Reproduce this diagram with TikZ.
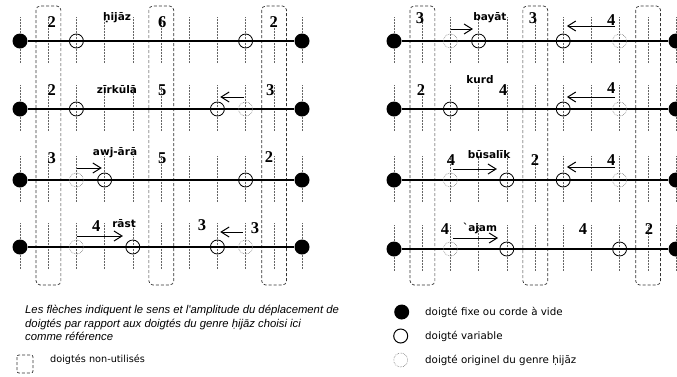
\documentclass[tikz,border=0pt]{standalone}
\usepackage{fontspec}
\setmainfont{Liberation Serif}
\newfontfamily\genrefont{DejaVu Sans}
\newfontfamily\notefont{Liberation Sans}
\usepackage{tikz}
\usetikzlibrary{arrows.meta}
\usetikzlibrary{scopes}

\tikzset{
  corde/.style={line width=1.3pt},
  fixe/.style={circle, fill=black, inner sep=0pt, minimum size=15pt},
  mobile/.style={circle, draw, line width=0.8pt, inner sep=0pt, minimum size=14pt},
  originel/.style={circle, draw=black!55, densely dotted, line width=0.6pt, inner sep=0pt, minimum size=14pt},
  touche/.style={black!60, densely dotted, line width=0.5pt},
  casevide/.style={dash pattern=on 3pt off 2pt, rounded corners=4pt, line width=0.7pt, draw=black!80},
  chiffre/.style={font=\bfseries\fontsize{16.5}{16.5}\selectfont, inner sep=0pt},
  genre/.style={font=\genrefont\bfseries\fontsize{10.5}{10.5}\selectfont, inner sep=0pt},
  fleche/.style={-{Straight Barb[length=8pt, width=10pt]}, line width=1pt},
  legende/.style={font=\genrefont\fontsize{10.3}{12}\selectfont, inner sep=0pt, anchor=west},
}

\begin{document}
\begin{tikzpicture}[x=1pt, y=-1pt]
\useasboundingbox (0,0) rectangle (677,376);

% genres a gauche
\begin{scope}[shift={(20pt,0pt)}, x=28.2pt]
\foreach \ry in {41,109,180,247}
  \foreach \i in {0,...,10}
    \draw[touche] (\i,\ry-24) -- (\i,\ry+22);
\foreach \c in {1,5,9}
  \draw[casevide] (\c-0.43,6) rectangle (\c+0.45,285);

% hijaz
\node[fixe] (hA) at (0,41) {};
\node[fixe] (hB) at (10,41) {};
\draw[corde] (hA) -- (hB);
\node[mobile] (h2) at (2,41) {};
\node[mobile] (h8) at (8,41) {};
\node[chiffre] (hn1) at (1.13,22) {2};
\node[genre] (hg) at (3.44,18) {ḥijāz};
\node[chiffre] (hn5) at (5.04,22) {6};
\node[chiffre] (hn9) at (9,22) {2};

% zirkula
\node[fixe] (zA) at (0,109) {};
\node[fixe] (zB) at (10,109) {};
\draw[corde] (zA) -- (zB);
\node[mobile] (z2) at (2,109) {};
\node[mobile] (z7) at (7,109) {};
\node[originel] (z8) at (8,109) {};
\node[chiffre] (zn1) at (1.13,90) {2};
\node[genre] (zg) at (3.44,90) {zīrkūlā};
\node[chiffre] (zn5) at (5.04,90) {5};
\node[chiffre] (zn9) at (8.87,90) {3};
\coordinate (zf1) at (7.95,97);
\coordinate (zf2) at (7.1,97);
\draw[fleche] (zf1) -- (zf2);

% awj-ara
\node[fixe] (aA) at (0,180) {};
\node[fixe] (aB) at (10,180) {};
\draw[corde] (aA) -- (aB);
\node[originel] (a2) at (2,180) {};
\node[mobile] (a3) at (3,180) {};
\node[mobile] (a8) at (8,180) {};
\node[chiffre] (an1) at (1.13,158) {3};
\node[genre] (ag) at (3.37,153) {awj-ārā};
\node[chiffre] (an5) at (5.04,158) {5};
\node[chiffre] (an9) at (8.83,157) {2};
\coordinate (af1) at (2.02,168);
\coordinate (af2) at (2.9,168);
\draw[fleche] (af1) -- (af2);

% rast
\node[fixe] (rA) at (0,247) {};
\node[fixe] (rB) at (10,247) {};
\draw[corde] (rA) -- (rB);
\node[originel] (r2) at (2,247) {};
\node[mobile] (r4) at (4,247) {};
\node[mobile] (r7) at (7,247) {};
\node[originel] (r8) at (8,247) {};
\node[chiffre] (rn1) at (2.7,226) {4};
\node[genre] (rg) at (3.69,224) {rāst};
\node[chiffre] (rn5) at (6.45,225) {3};
\node[chiffre] (rn9) at (8.33,228) {3};
\coordinate (rf1) at (2.02,236);
\coordinate (rf2) at (3.65,236);
\draw[fleche] (rf1) -- (rf2);
\coordinate (rf3) at (7.9,232);
\coordinate (rf4) at (7.1,232);
\draw[fleche] (rf3) -- (rf4);
\end{scope}

% genres a droite
\begin{scope}[shift={(394pt,0pt)}, x=28.2pt]
\foreach \ry in {41,109,180,249}
  \foreach \i in {0,...,10}
    \draw[touche] (\i,\ry-24) -- (\i,\ry+22);
\foreach \c in {1,5,9}
  \draw[casevide] (\c-0.43,6) rectangle (\c+0.45,285);

% bayat
\node[fixe] (bA) at (0,41) {};
\node[fixe] (bB) at (10,41) {};
\draw[corde] (bA) -- (bB);
\node[originel] (b2) at (2,41) {};
\node[mobile] (b3) at (3,41) {};
\node[mobile] (b6) at (6,41) {};
\node[originel] (b8) at (8,41) {};
\node[chiffre] (bn1) at (0.92,18) {3};
\node[genre] (bg) at (3.4,18) {bayāt};
\node[chiffre] (bn5) at (4.93,18) {3};
\node[chiffre] (bn9) at (7.7,20) {4};
\coordinate (bf1) at (2.02,29);
\coordinate (bf2) at (2.8,29);
\draw[fleche] (bf1) -- (bf2);
\coordinate (bf3) at (7.84,26);
\coordinate (bf4) at (6.13,26);
\draw[fleche] (bf3) -- (bf4);

% kurd
\node[fixe] (kA) at (0,109) {};
\node[fixe] (kB) at (10,109) {};
\draw[corde] (kA) -- (kB);
\node[mobile] (k2) at (2,109) {};
\node[mobile] (k6) at (6,109) {};
\node[originel] (k8) at (8,109) {};
\node[chiffre] (kn1) at (0.96,90) {2};
\node[genre] (kg) at (3.05,80) {kurd};
\node[chiffre] (kn5) at (3.87,90) {4};
\node[chiffre] (kn9) at (7.7,88) {4};
\coordinate (kf1) at (7.84,97);
\coordinate (kf2) at (6.13,97);
\draw[fleche] (kf1) -- (kf2);

% busalik
\node[fixe] (sA) at (0,180) {};
\node[fixe] (sB) at (10,180) {};
\draw[corde] (sA) -- (sB);
\node[originel] (s2) at (2,180) {};
\node[mobile] (s4) at (4,180) {};
\node[mobile] (s6) at (6,180) {};
\node[originel] (s8) at (8,180) {};
\node[chiffre] (sn1) at (2.02,160) {4};
\node[genre] (sg) at (3.37,155) {būsalīk};
\node[chiffre] (sn5) at (5,160) {2};
\node[chiffre] (sn9) at (7.7,160) {4};
\coordinate (sf1) at (2.09,169);
\coordinate (sf2) at (3.65,169);
\draw[fleche] (sf1) -- (sf2);
\coordinate (sf3) at (7.84,167);
\coordinate (sf4) at (6.13,167);
\draw[fleche] (sf3) -- (sf4);

% ajam
\node[fixe] (jA) at (0,249) {};
\node[fixe] (jB) at (10,249) {};
\draw[corde] (jA) -- (jB);
\node[originel] (j2) at (2,249) {};
\node[mobile] (j4) at (4,249) {};
\node[mobile] (j8) at (8,249) {};
\node[chiffre] (jn1) at (1.81,229) {4};
\node[genre] (jg) at (3.05,228) {`ajam};
\node[chiffre] (jn5) at (6.7,229) {4};
\node[chiffre] (jn9) at (9.04,229) {2};
\coordinate (jf1) at (2.09,238);
\coordinate (jf2) at (3.69,238);
\draw[fleche] (jf1) -- (jf2);
\end{scope}

% legende
\node[font=\notefont\itshape\fontsize{11.3}{13.5}\selectfont, inner sep=0pt,
  align=left, anchor=north west] (note) at (25,305)
  {Les flèches indiquent le sens et l'amplitude du déplacement de\\
   doigtés par rapport aux doigtés du genre ḥijāz choisi ici\\
   comme référence};
\draw[casevide, rounded corners=2pt] (17,355) rectangle (33,373);
\node[legende, font=\genrefont\fontsize{9.7}{12}\selectfont] (lcase) at (50,360) {doigtés non-utilisés};
\node[fixe] (lfixe) at (401.7,312) {};
\node[legende] (lfixet) at (425,312) {doigté fixe ou corde à vide};
\node[mobile, line width=1pt] (lvar) at (400.7,336) {};
\node[legende] (lvart) at (425,336) {doigté variable};
\node[originel] (lorig) at (400.7,360) {};
\node[legende] (lorigt) at (425,360) {doigté originel du genre ḥijāz};
\end{tikzpicture}
\end{document}
